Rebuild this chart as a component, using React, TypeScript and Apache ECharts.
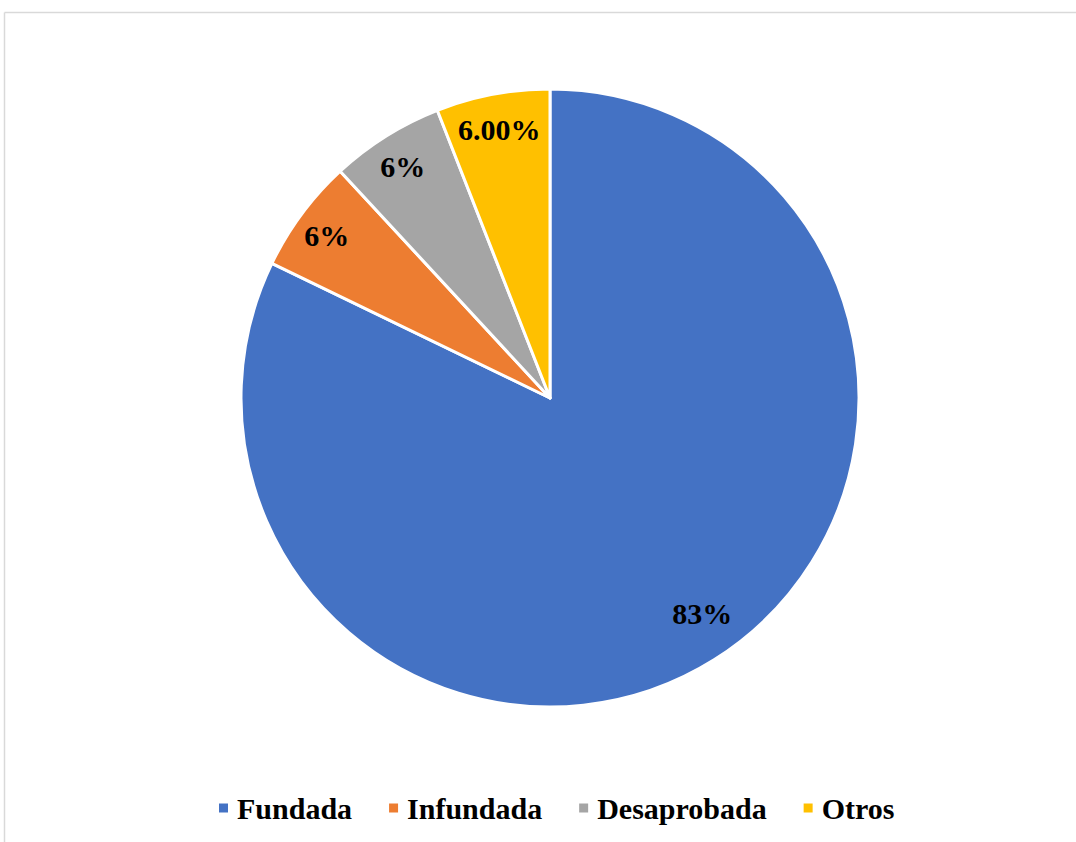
import React, { useEffect, useRef } from "react";
import * as echarts from "echarts";

const categories = ["Fundada", "Infundada", "Desaprobada", "Otros"];
const values = [0.83, 0.06, 0.06, 0.06];
const labelDecimals = [0, 0, 0, 2];
const colors = ["#4472C4", "#ED7D31", "#A5A5A5", "#FFC000"];
const labelShift = [
  [10, -12],
  [-8, -3],
  [-5, -4],
  [-1, -5],
];
const FONT = "Liberation Serif";

export default function App() {
  const ref = useRef<HTMLDivElement>(null);
  useEffect(() => {
    if (!ref.current) return;
    const chart = echarts.init(ref.current, null, { renderer: "svg" });
    const data = categories.map((name, i) => ({ name, value: values[i], itemStyle: { color: colors[i] } }));
    chart.setOption({
      animation: false,
      backgroundColor: "#ffffff",
      graphic: [
        { type: "line", shape: { x1: 4.5, y1: 12.5, x2: 1076, y2: 12.5 }, style: { stroke: "#d9d9d9", lineWidth: 1.5 }, silent: true },
        { type: "line", shape: { x1: 4.5, y1: 12.5, x2: 4.5, y2: 842 }, style: { stroke: "#d9d9d9", lineWidth: 1.5 }, silent: true },
      ],
      legend: {
        data: categories,
        left: 212,
        top: 788,
        icon: "rect",
        itemWidth: 11,
        itemHeight: 11,
        itemGap: 35,
        textStyle: {
          fontFamily: FONT,
          fontWeight: "bold",
          fontSize: 30,
          color: "#000",
          padding: [0, 0, 0, 3],
        },
      },
      series: [
        {
          type: "pie",
          center: [550, 398],
          radius: [0, 309],
          startAngle: 90,
          clockwise: true,
          data,
          label: { show: false },
          labelLine: { show: false },
          itemStyle: { borderColor: "#ffffff", borderWidth: 3 },
          emphasis: { disabled: true },
          silent: true,
        },
        {
          type: "pie",
          center: [550, 398],
          radius: [264, 266],
          startAngle: 90,
          clockwise: true,
          data: categories.map((name, i) => ({ name, value: values[i] })),
          itemStyle: { color: "rgba(0,0,0,0)", borderWidth: 0 },
          label: {
            show: true,
            position: "inside",
            fontFamily: FONT,
            fontWeight: "bold",
            fontSize: 30,
            color: "#000",
            formatter: (p: any) => (values[p.dataIndex] * 100).toFixed(labelDecimals[p.dataIndex]) + "%",
          },
          labelLayout: (p: any) => ({ dx: labelShift[p.dataIndex][0], dy: labelShift[p.dataIndex][1] }),
          labelLine: { show: false },
          emphasis: { disabled: true },
          silent: true,
        },
      ],
    });
    return () => chart.dispose();
  }, []);
  return (
    <div style={{ position: "fixed", left: 0, top: 0, width: 1076, height: 842, background: "#fff" }}>
      <div ref={ref} style={{ width: 1076, height: 842 }} />
    </div>
  );
}
